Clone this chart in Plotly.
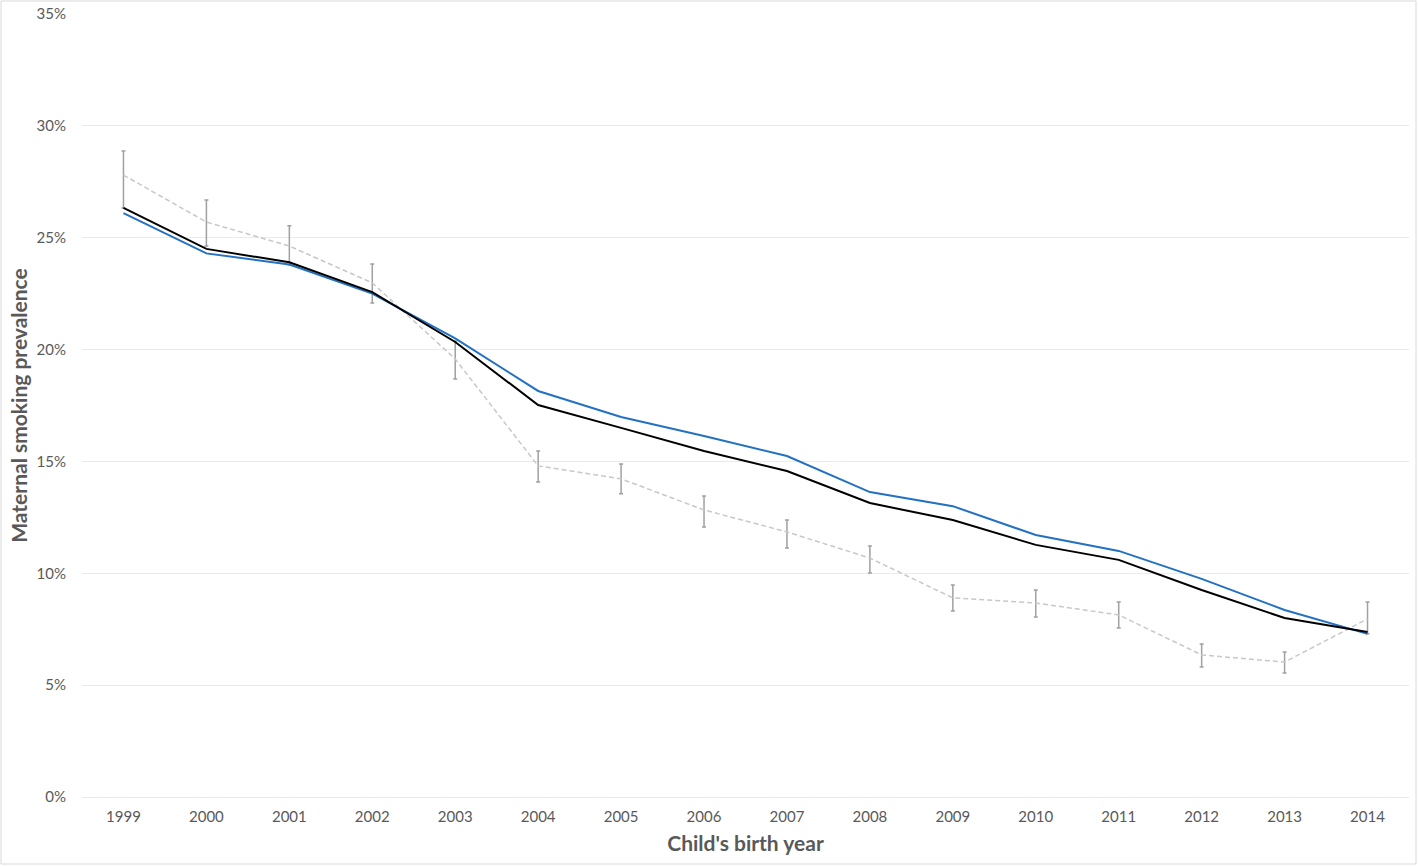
import plotly.graph_objects as go

years = [str(y) for y in range(1999, 2015)]

# Black line series
black_vals = [26.33, 24.50, 23.90, 22.57, 20.34, 17.52, 16.50, 15.47, 14.57, 13.14, 12.38, 11.27, 10.60, 9.25, 8.00, 7.38]
# Blue line series
blue_vals = [26.10, 24.30, 23.80, 22.50, 20.50, 18.15, 16.99, 16.14, 15.24, 13.63, 13.00, 11.71, 11.00, 9.75, 8.36, 7.29]
# Gray dashed series with confidence interval
gray_vals = [27.80, 25.70, 24.63, 22.98, 19.58, 14.80, 14.22, 12.83, 11.85, 10.68, 8.90, 8.67, 8.14, 6.35, 6.03, 7.96]
gray_upper = [28.88, 26.69, 25.53, 23.83, 20.38, 15.47, 14.89, 13.46, 12.38, 11.22, 9.48, 9.25, 8.72, 6.84, 6.48, 8.72]
gray_lower = [26.33, 24.63, 23.78, 22.08, 18.69, 14.08, 13.55, 12.07, 11.13, 10.01, 8.31, 8.05, 7.55, 5.81, 5.54, 7.30]

y_ticks = [0, 5, 10, 15, 20, 25, 30, 35]
y_ticklabels = ["0%", "5%", "10%", "15%", "20%", "25%", "30%", "35%"]

FONT = "Lato, 'Open Sans', sans-serif"
TXT = "#595959"

fig = go.Figure()
fig.add_trace(go.Scatter(
    x=years, y=gray_vals, mode="lines",
    line=dict(color="#C8C8C8", width=1.5, dash="5px,3px"),
    error_y=dict(type="data", symmetric=False,
                 array=[u - v for u, v in zip(gray_upper, gray_vals)],
                 arrayminus=[v - l for v, l in zip(gray_vals, gray_lower)],
                 color="#A0A0A0", thickness=1.5, width=2),
    showlegend=False,
))
fig.add_trace(go.Scatter(
    x=years, y=blue_vals, mode="lines",
    line=dict(color="#2271C2", width=2), showlegend=False,
))
fig.add_trace(go.Scatter(
    x=years, y=black_vals, mode="lines",
    line=dict(color="#000000", width=2), showlegend=False,
))

W, H = 1418, 866
l, r, t, b = 82, 9, 14, 69
pw, ph = W - l - r, H - t - b

fig.update_layout(
    width=W, height=H,
    margin=dict(l=l, r=r, t=t, b=b, autoexpand=False),
    paper_bgcolor="white", plot_bgcolor="white",
    font=dict(family=FONT, color=TXT, size=15),
    xaxis=dict(
        type="category", range=[-0.5, 15.5], automargin=False,
        showgrid=False, showline=False, zeroline=False,
        ticks="", ticklabelstandoff=9, tickfont=dict(size=15, color=TXT),
        title=dict(text="<b>Child's birth year</b>", font=dict(size=21, color=TXT, family=FONT), standoff=12),
    ),
    yaxis=dict(
        range=[0, 35], tickvals=y_ticks, ticktext=y_ticklabels, automargin=False,
        showgrid=True, gridcolor="#EBEBEB", gridwidth=1,
        zeroline=True, zerolinecolor="#EBEBEB", zerolinewidth=1,
        showline=False, ticks="", ticklabelstandoff=15,
        tickfont=dict(size=15, color=TXT),
        title=dict(text="<b>Maternal smoking prevalence</b>", font=dict(size=21, color=TXT, family=FONT), standoff=3),
    ),
    shapes=[dict(
        type="rect", xref="paper", yref="paper",
        x0=(1 - l) / pw, x1=(W - 2 - l) / pw,
        y0=-(b - 2) / ph, y1=1 + (t - 1) / ph,
        line=dict(color="#D9D9D9", width=1), fillcolor="rgba(0,0,0,0)", layer="below",
    )],
)

fig.write_html("out.html", config={"displayModeBar": False},
               post_script="document.body.style.margin='0';document.body.style.overflow='hidden';")
